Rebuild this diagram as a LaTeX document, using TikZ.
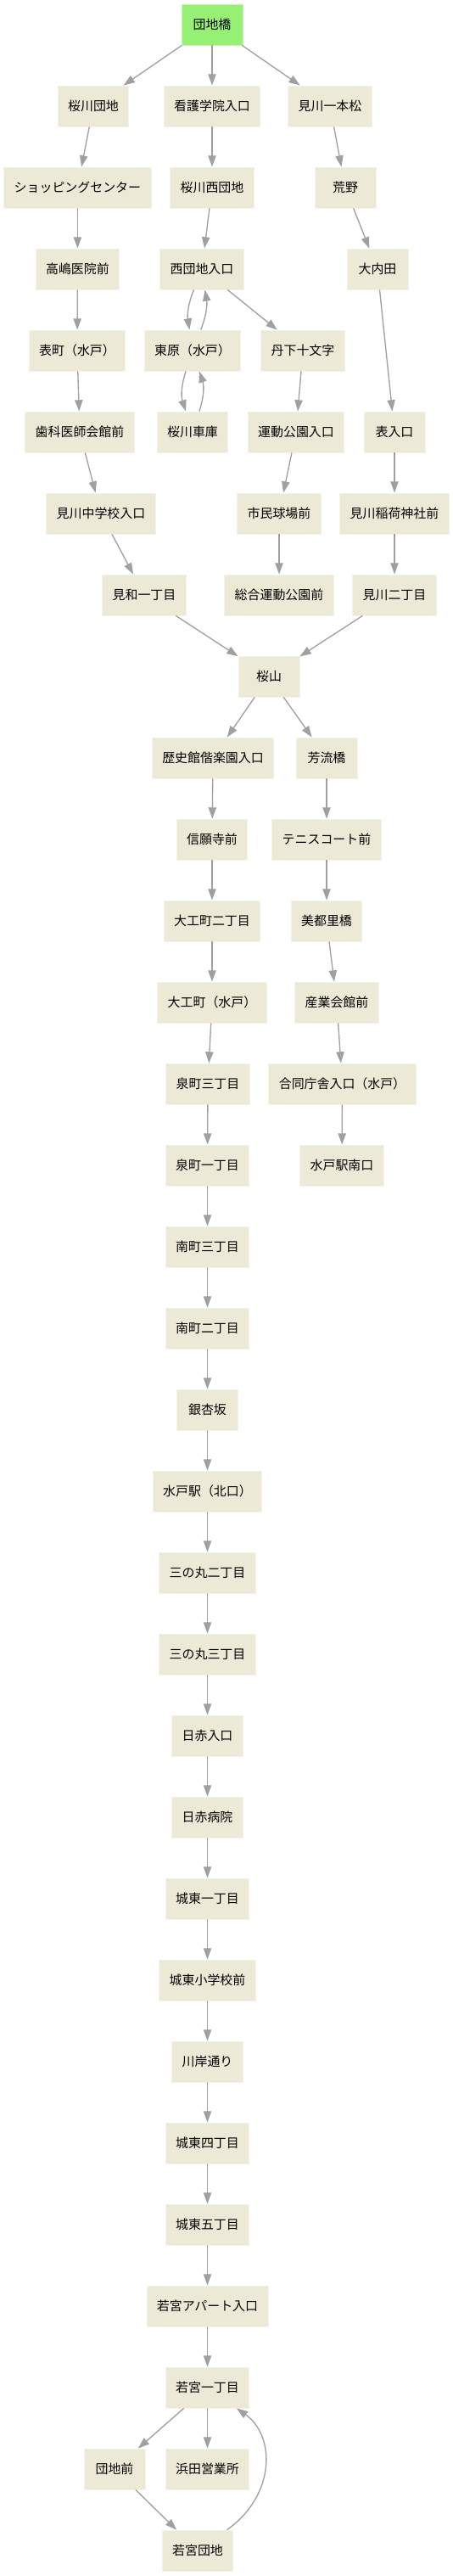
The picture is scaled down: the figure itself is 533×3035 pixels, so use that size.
\documentclass[tikz,border=0pt]{standalone}
\usepackage{fontspec}
\setmainfont{Noto Sans CJK JP}
\usetikzlibrary{arrows.meta}
\definecolor{stopfill}{RGB}{236,233,214}
\definecolor{startfill}{RGB}{150,240,115}
\definecolor{edgegray}{RGB}{160,160,160}
\begin{document}
\begin{tikzpicture}[x=0.75pt,y=-0.75pt,
  stopbox/.style={rectangle, fill=stopfill, draw=stopfill!55!white, line width=0.6pt,
    minimum width=54pt, minimum height=36pt, inner xsep=9pt, inner ysep=0pt,
    font=\fontsize{11.2}{13}\selectfont, text=black},
  startbox/.style={stopbox, fill=startfill, draw=startfill!55!white},
  link/.style={draw=edgegray, line width=1pt, -{Triangle[length=10pt,width=7pt]}}]
\useasboundingbox (0,0) rectangle (533,3035);
% row 0
\node[startbox] (dk) at (250,29) {団地橋};
% row 1
\node[stopbox] (skd) at (110,125) {桜川団地};
\node[stopbox] (kgi) at (250,125) {看護学院入口};
\node[stopbox] (mip) at (389,125) {見川一本松};
% row 2
\node[stopbox] (shop) at (91.4,221) {ショッピングセンター};
\node[stopbox] (skn) at (250,221) {桜川西団地};
\node[stopbox] (arano) at (407,221) {荒野};
% row 3
\node[stopbox] (taka) at (91.4,317) {高嶋医院前};
\node[stopbox] (ndi) at (238,317) {西団地入口};
\node[stopbox] (oud) at (445,317) {大内田};
% row 4
\node[stopbox] (omc) at (91,413) {表町（水戸）};
\node[stopbox] (hgs) at (227,413) {東原（水戸）};
\node[stopbox] (tnj) at (357,413) {丹下十文字};
% row 5
\node[stopbox] (shk) at (94,509) {歯科医師会館前};
\node[stopbox] (skg) at (227,509) {桜川車庫};
\node[stopbox] (udk) at (349,509) {運動公園入口};
\node[stopbox] (omi) at (465,509) {表入口};
% row 6
\node[stopbox] (mcg) at (119,605) {見川中学校入口};
\node[stopbox] (smk) at (329,605) {市民球場前};
\node[stopbox] (mij) at (465,605) {見川稲荷神社前};
% row 7
\node[stopbox] (mw1) at (170,701) {見和一丁目};
\node[stopbox] (sgu) at (329,701) {総合運動公園前};
\node[stopbox] (mk2) at (465,701) {見川二丁目};
% row 8
\node[stopbox] (skym) at (317,797) {桜山};
% row 9
\node[stopbox] (rkk) at (251,893) {歴史館偕楽園入口};
\node[stopbox] (hrb) at (385,893) {芳流橋};
% row 10
\node[stopbox] (sgj) at (250,989) {信願寺前};
\node[stopbox] (tns) at (385,989) {テニスコート前};
% row 11
\node[stopbox] (dk2) at (250,1085) {大工町二丁目};
\node[stopbox] (mtr) at (385,1085) {美都里橋};
% row 12
\node[stopbox] (dkm) at (250,1181) {大工町（水戸）};
\node[stopbox] (sgk) at (397,1181) {産業会館前};
% row 13
\node[stopbox] (iz3) at (245,1277) {泉町三丁目};
\node[stopbox] (gdc) at (403.5,1277) {合同庁舎入口（水戸）};
% row 14
\node[stopbox] (iz1) at (244.5,1373) {泉町一丁目};
\node[stopbox] (mms) at (403,1373) {水戸駅南口};
% chain
\node[stopbox] (mn3) at (244.5,1469) {南町三丁目};
\node[stopbox] (mn2) at (244.5,1565) {南町二丁目};
\node[stopbox] (ich) at (244.5,1661) {銀杏坂};
\node[stopbox] (mkt) at (244.5,1757) {水戸駅（北口）};
\node[stopbox] (sm2) at (244.5,1853) {三の丸二丁目};
\node[stopbox] (sm3) at (244.5,1949) {三の丸三丁目};
\node[stopbox] (nsi) at (244.5,2045) {日赤入口};
\node[stopbox] (nsb) at (244.5,2141) {日赤病院};
\node[stopbox] (jt1) at (244.5,2237) {城東一丁目};
\node[stopbox] (jts) at (244.5,2333) {城東小学校前};
\node[stopbox] (kgd) at (244.5,2429) {川岸通り};
\node[stopbox] (jt4) at (244.5,2525) {城東四丁目};
\node[stopbox] (jt5) at (244.5,2621) {城東五丁目};
\node[stopbox] (wma) at (244.5,2717) {若宮アパート入口};
\node[stopbox] (wm1) at (244.5,2813) {若宮一丁目};
\node[stopbox] (dcm) at (135,2909) {団地前};
\node[stopbox] (hme) at (244.5,2909) {浜田営業所};
\node[stopbox] (wmd) at (233,3005) {若宮団地};
% edges
\draw[link] (dk) -- (skd);
\draw[link] (dk) -- (kgi);
\draw[link] (dk) -- (mip);
\draw[link] (skd) -- (shop);
\draw[link] (shop) -- (taka);
\draw[link] (taka) -- (omc);
\draw[link] (omc) -- (shk);
\draw[link] (shk) -- (mcg);
\draw[link] (mcg) -- (mw1);
\draw[link] (mw1) -- (skym);
\draw[link] (kgi) -- (skn);
\draw[link] (skn) -- (ndi);
\draw[link] (ndi) to[bend right=15] (hgs);
\draw[link] (hgs) to[bend right=15] (ndi);
\draw[link] (hgs) to[bend right=18] (skg);
\draw[link] (skg) to[bend right=18] (hgs);
\draw[link] (ndi) -- (tnj);
\draw[link] (tnj) -- (udk);
\draw[link] (udk) -- (smk);
\draw[link] (smk) -- (sgu);
\draw[link] (mip) -- (arano);
\draw[link] (arano) -- (oud);
\draw[link] (oud) -- (omi);
\draw[link] (omi) -- (mij);
\draw[link] (mij) -- (mk2);
\draw[link] (mk2) -- (skym);
\draw[link] (skym) -- (rkk);
\draw[link] (skym) -- (hrb);
\draw[link] (rkk) -- (sgj);
\draw[link] (sgj) -- (dk2);
\draw[link] (dk2) -- (dkm);
\draw[link] (dkm) -- (iz3);
\draw[link] (iz3) -- (iz1);
\draw[link] (iz1) -- (mn3);
\draw[link] (mn3) -- (mn2);
\draw[link] (mn2) -- (ich);
\draw[link] (ich) -- (mkt);
\draw[link] (mkt) -- (sm2);
\draw[link] (sm2) -- (sm3);
\draw[link] (sm3) -- (nsi);
\draw[link] (nsi) -- (nsb);
\draw[link] (nsb) -- (jt1);
\draw[link] (jt1) -- (jts);
\draw[link] (jts) -- (kgd);
\draw[link] (kgd) -- (jt4);
\draw[link] (jt4) -- (jt5);
\draw[link] (jt5) -- (wma);
\draw[link] (wma) -- (wm1);
\draw[link] (wm1) -- (dcm);
\draw[link] (wm1) -- (hme);
\draw[link] (dcm) -- (wmd);
\draw[link] (wmd) .. controls (325,2940) and (325,2870) .. (wm1);
\draw[link] (hrb) -- (tns);
\draw[link] (tns) -- (mtr);
\draw[link] (mtr) -- (sgk);
\draw[link] (sgk) -- (gdc);
\draw[link] (gdc) -- (mms);
\end{tikzpicture}
\end{document}
